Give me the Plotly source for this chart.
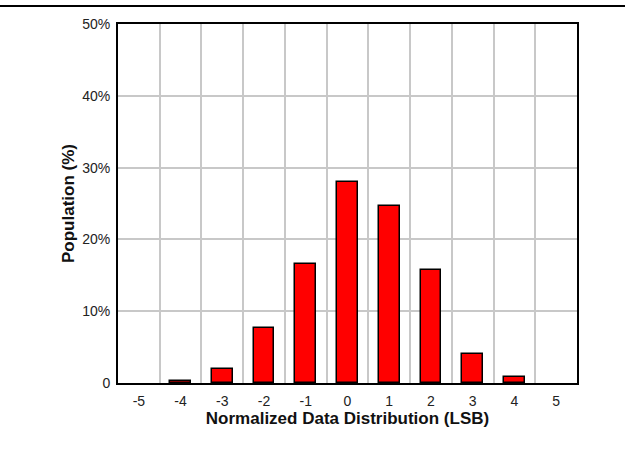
import plotly.graph_objects as go

categories = [-5, -4, -3, -2, -1, 0, 1, 2, 3, 4, 5]
population = [0.0, 0.3, 1.9, 7.6, 16.6, 28.0, 24.7, 15.7, 4.0, 0.9, 0.0]
y_ticks = [0, 10, 20, 30, 40, 50]
y_tick_labels = ["0", "10%", "20%", "30%", "40%", "50%"]
grid_x = [-4.5, -3.5, -2.5, -1.5, -0.5, 0.5, 1.5, 2.5, 3.5, 4.5]

W, H = 625, 461
ml, mr, mt, mb = 118, 48, 24, 78

bar_vals = [v if v > 0 else None for v in population]

fig = go.Figure()
fig.add_trace(go.Bar(
    x=categories, y=bar_vals, width=0.5,
    marker=dict(color="#ff0000", line=dict(color="#000000", width=1.5)),
    showlegend=False,
))

FAM = "Arial, Liberation Sans, sans-serif"
font = dict(family=FAM, size=14, color="#222222")
title_font = dict(family=FAM, size=17, color="#111111")

fig.update_layout(
    width=W, height=H,
    margin=dict(l=ml, r=mr, t=mt, b=mb),
    plot_bgcolor="white", paper_bgcolor="white",
    font=font,
    bargap=0,
    xaxis=dict(
        range=[-5.5, 5.5], tickmode="array", tickvals=categories,
        ticktext=[str(c) for c in categories],
        showgrid=False, zeroline=False, ticks="",
        ticklabelstandoff=4,
        showline=True, linecolor="black", linewidth=2, mirror=True,
        minor=dict(tickmode="array", tickvals=grid_x, showgrid=True,
                   gridcolor="#c8c8c8", gridwidth=1.5, ticks=""),
        title=dict(text="<b>Normalized Data Distribution (LSB)</b>",
                   font=title_font, standoff=0),
        tickfont=font,
    ),
    yaxis=dict(
        range=[0, 50], tickmode="array", tickvals=y_ticks, ticktext=y_tick_labels,
        showgrid=True, gridcolor="#c8c8c8", gridwidth=1.5, zeroline=False,
        ticks="", ticklen=0, ticklabelstandoff=3,
        showline=True, linecolor="black", linewidth=2, mirror=True,
        title=dict(text="<b>Population (%)</b>", font=title_font, standoff=3),
        tickfont=font,
    ),
)

pw = W - ml - mr
ph = H - mt - mb
fig.add_shape(type="line", xref="paper", yref="paper",
              x0=-ml / pw, x1=(W - ml) / pw,
              y0=1 + (mt - 6) / ph, y1=1 + (mt - 6) / ph,
              line=dict(color="black", width=2))

fig.write_html("out.html")
